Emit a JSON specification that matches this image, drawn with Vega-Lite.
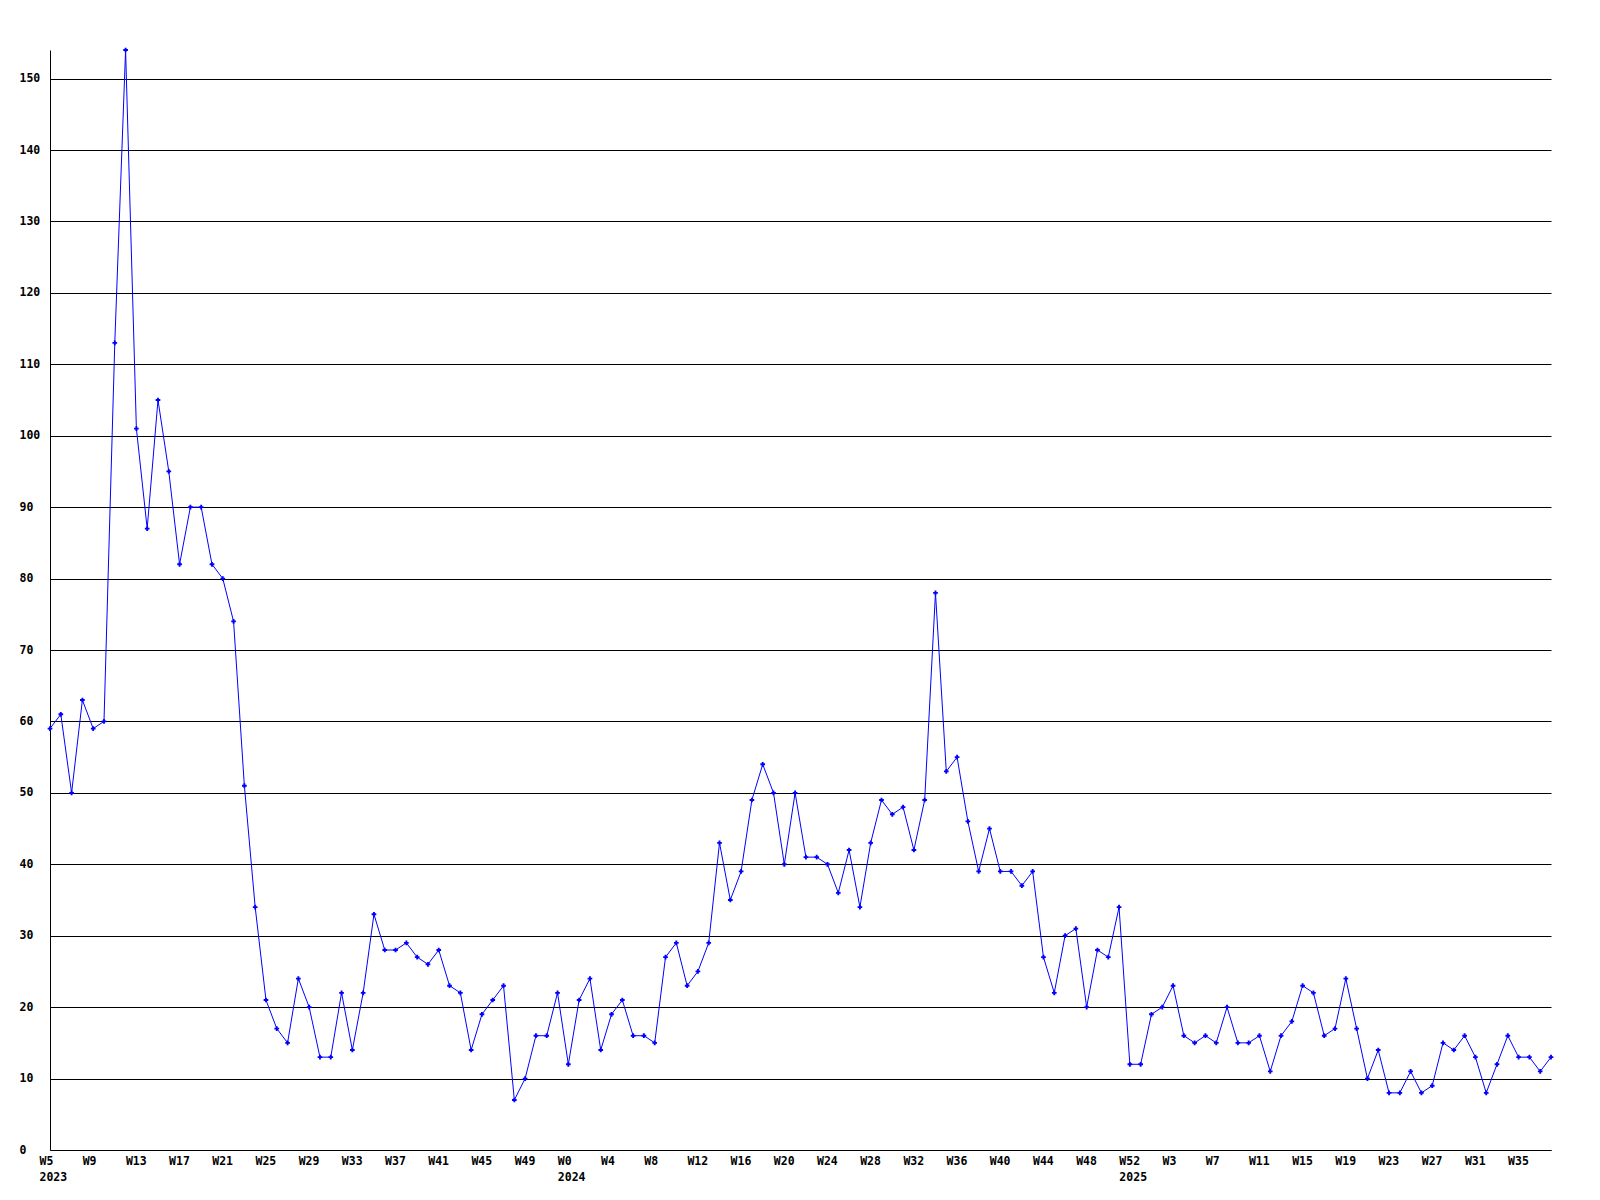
{
  "$schema": "https://vega.github.io/schema/vega-lite/v6.json",
  "width": 1501,
  "height": 1100,
  "autosize": {"type": "none"},
  "padding": {"left": 50, "top": 50, "right": 49, "bottom": 50},
  "background": "white",
  "config": {"view": {"stroke": null}},
  "data": {"values": [
    {"wk": "2023-W5", "v": 59}, {"wk": "2023-W6", "v": 61}, {"wk": "2023-W7", "v": 50}, {"wk": "2023-W8", "v": 63},
    {"wk": "2023-W9", "v": 59}, {"wk": "2023-W10", "v": 60}, {"wk": "2023-W11", "v": 113}, {"wk": "2023-W12", "v": 154},
    {"wk": "2023-W13", "v": 101}, {"wk": "2023-W14", "v": 87}, {"wk": "2023-W15", "v": 105}, {"wk": "2023-W16", "v": 95},
    {"wk": "2023-W17", "v": 82}, {"wk": "2023-W18", "v": 90}, {"wk": "2023-W19", "v": 90}, {"wk": "2023-W20", "v": 82},
    {"wk": "2023-W21", "v": 80}, {"wk": "2023-W22", "v": 74}, {"wk": "2023-W23", "v": 51}, {"wk": "2023-W24", "v": 34},
    {"wk": "2023-W25", "v": 21}, {"wk": "2023-W26", "v": 17}, {"wk": "2023-W27", "v": 15}, {"wk": "2023-W28", "v": 24},
    {"wk": "2023-W29", "v": 20}, {"wk": "2023-W30", "v": 13}, {"wk": "2023-W31", "v": 13}, {"wk": "2023-W32", "v": 22},
    {"wk": "2023-W33", "v": 14}, {"wk": "2023-W34", "v": 22}, {"wk": "2023-W35", "v": 33}, {"wk": "2023-W36", "v": 28},
    {"wk": "2023-W37", "v": 28}, {"wk": "2023-W38", "v": 29}, {"wk": "2023-W39", "v": 27}, {"wk": "2023-W40", "v": 26},
    {"wk": "2023-W41", "v": 28}, {"wk": "2023-W42", "v": 23}, {"wk": "2023-W43", "v": 22}, {"wk": "2023-W44", "v": 14},
    {"wk": "2023-W45", "v": 19}, {"wk": "2023-W46", "v": 21}, {"wk": "2023-W47", "v": 23}, {"wk": "2023-W48", "v": 7},
    {"wk": "2023-W49", "v": 10}, {"wk": "2023-W50", "v": 16}, {"wk": "2023-W51", "v": 16}, {"wk": "2023-W52", "v": 22},
    {"wk": "2024-W0", "v": 12}, {"wk": "2024-W1", "v": 21}, {"wk": "2024-W2", "v": 24}, {"wk": "2024-W3", "v": 14},
    {"wk": "2024-W4", "v": 19}, {"wk": "2024-W5", "v": 21}, {"wk": "2024-W6", "v": 16}, {"wk": "2024-W7", "v": 16},
    {"wk": "2024-W8", "v": 15}, {"wk": "2024-W9", "v": 27}, {"wk": "2024-W10", "v": 29}, {"wk": "2024-W11", "v": 23},
    {"wk": "2024-W12", "v": 25}, {"wk": "2024-W13", "v": 29}, {"wk": "2024-W14", "v": 43}, {"wk": "2024-W15", "v": 35},
    {"wk": "2024-W16", "v": 39}, {"wk": "2024-W17", "v": 49}, {"wk": "2024-W18", "v": 54}, {"wk": "2024-W19", "v": 50},
    {"wk": "2024-W20", "v": 40}, {"wk": "2024-W21", "v": 50}, {"wk": "2024-W22", "v": 41}, {"wk": "2024-W23", "v": 41},
    {"wk": "2024-W24", "v": 40}, {"wk": "2024-W25", "v": 36}, {"wk": "2024-W26", "v": 42}, {"wk": "2024-W27", "v": 34},
    {"wk": "2024-W28", "v": 43}, {"wk": "2024-W29", "v": 49}, {"wk": "2024-W30", "v": 47}, {"wk": "2024-W31", "v": 48},
    {"wk": "2024-W32", "v": 42}, {"wk": "2024-W33", "v": 49}, {"wk": "2024-W34", "v": 78}, {"wk": "2024-W35", "v": 53},
    {"wk": "2024-W36", "v": 55}, {"wk": "2024-W37", "v": 46}, {"wk": "2024-W38", "v": 39}, {"wk": "2024-W39", "v": 45},
    {"wk": "2024-W40", "v": 39}, {"wk": "2024-W41", "v": 39}, {"wk": "2024-W42", "v": 37}, {"wk": "2024-W43", "v": 39},
    {"wk": "2024-W44", "v": 27}, {"wk": "2024-W45", "v": 22}, {"wk": "2024-W46", "v": 30}, {"wk": "2024-W47", "v": 31},
    {"wk": "2024-W48", "v": 20}, {"wk": "2024-W49", "v": 28}, {"wk": "2024-W50", "v": 27}, {"wk": "2024-W51", "v": 34},
    {"wk": "2024-W52", "v": 12},
    {"wk": "2025-W0", "v": 12}, {"wk": "2025-W1", "v": 19}, {"wk": "2025-W2", "v": 20}, {"wk": "2025-W3", "v": 23},
    {"wk": "2025-W4", "v": 16}, {"wk": "2025-W5", "v": 15}, {"wk": "2025-W6", "v": 16}, {"wk": "2025-W7", "v": 15},
    {"wk": "2025-W8", "v": 20}, {"wk": "2025-W9", "v": 15}, {"wk": "2025-W10", "v": 15}, {"wk": "2025-W11", "v": 16},
    {"wk": "2025-W12", "v": 11}, {"wk": "2025-W13", "v": 16}, {"wk": "2025-W14", "v": 18}, {"wk": "2025-W15", "v": 23},
    {"wk": "2025-W16", "v": 22}, {"wk": "2025-W17", "v": 16}, {"wk": "2025-W18", "v": 17}, {"wk": "2025-W19", "v": 24},
    {"wk": "2025-W20", "v": 17}, {"wk": "2025-W21", "v": 10}, {"wk": "2025-W22", "v": 14}, {"wk": "2025-W23", "v": 8},
    {"wk": "2025-W24", "v": 8}, {"wk": "2025-W25", "v": 11}, {"wk": "2025-W26", "v": 8}, {"wk": "2025-W27", "v": 9},
    {"wk": "2025-W28", "v": 15}, {"wk": "2025-W29", "v": 14}, {"wk": "2025-W30", "v": 16}, {"wk": "2025-W31", "v": 13},
    {"wk": "2025-W32", "v": 8}, {"wk": "2025-W33", "v": 12}, {"wk": "2025-W34", "v": 16}, {"wk": "2025-W35", "v": 13},
    {"wk": "2025-W36", "v": 13}, {"wk": "2025-W37", "v": 11}, {"wk": "2025-W38", "v": 13}
  ]},
  "mark": {
    "type": "line",
    "color": "#0000ff",
    "strokeWidth": 1,
    "point": {"shape": "cross", "size": 22, "filled": true, "color": "#0000ff", "strokeWidth": 0}
  },
  "encoding": {
    "x": {
      "field": "wk",
      "type": "ordinal",
      "sort": null,
      "scale": {"type": "point", "padding": 0},
      "title": null,
      "axis": {
        "values": ["2023-W5", "2023-W9", "2023-W13", "2023-W17", "2023-W21", "2023-W25", "2023-W29", "2023-W33", "2023-W37", "2023-W41", "2023-W45", "2023-W49",
                   "2024-W0", "2024-W4", "2024-W8", "2024-W12", "2024-W16", "2024-W20", "2024-W24", "2024-W28", "2024-W32", "2024-W36", "2024-W40", "2024-W44", "2024-W48", "2024-W52",
                   "2025-W3", "2025-W7", "2025-W11", "2025-W15", "2025-W19", "2025-W23", "2025-W27", "2025-W31", "2025-W35"],
        "labelExpr": "datum.value == '2023-W5' ? ['W5', '2023'] : datum.value == '2024-W0' ? ['W0', '2024'] : datum.value == '2024-W52' ? ['W52', '2025'] : split(datum.value,'-')[1]",
        "labelAngle": 0,
        "labelAlign": "left",
        "labelBaseline": "top",
        "labelOffset": -11,
        "labelPadding": 5,
        "labelLineHeight": 16,
        "labelFont": "DejaVu Sans Mono",
        "labelFontWeight": "bold",
        "labelFontSize": 11.5,
        "labelColor": "#000000",
        "labelOverlap": false,
        "labelBound": false,
        "labelFlush": false,
        "ticks": false,
        "grid": false,
        "domainColor": "#000000",
        "domainWidth": 1
      }
    },
    "y": {
      "field": "v",
      "type": "quantitative",
      "scale": {"domain": [0, 154], "nice": false, "zero": true},
      "title": null,
      "axis": {
        "values": [0, 10, 20, 30, 40, 50, 60, 70, 80, 90, 100, 110, 120, 130, 140, 150],
        "labelAlign": "left",
        "labelBaseline": "middle",
        "labelPadding": 31,
        "labelFont": "DejaVu Sans Mono",
        "labelFontWeight": "bold",
        "labelFontSize": 11.5,
        "labelColor": "#000000",
        "labelOverlap": false,
        "labelBound": false,
        "labelFlush": false,
        "ticks": false,
        "grid": true,
        "gridColor": "#000000",
        "gridWidth": 1,
        "gridOpacity": 1,
        "domainColor": "#000000",
        "domainWidth": 1
      }
    }
  }
}
